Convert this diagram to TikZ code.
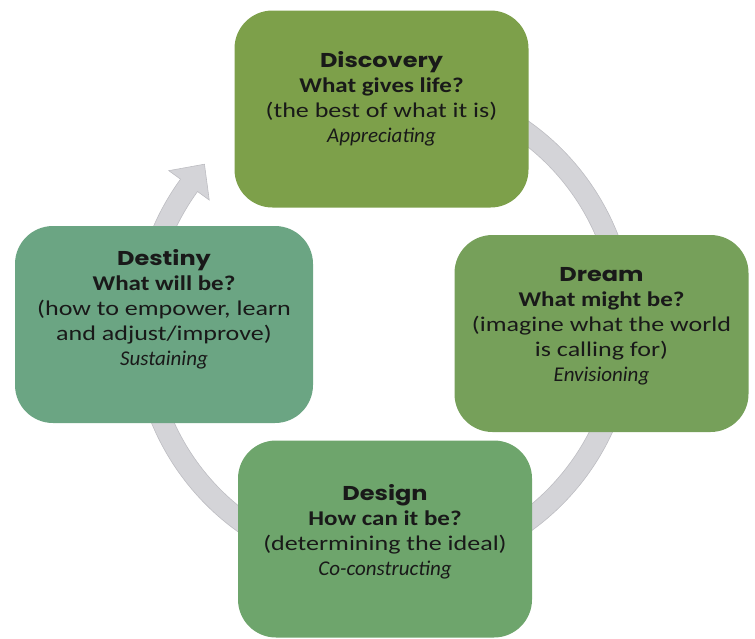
\documentclass[tikz,border=0pt]{standalone}
\usepackage{fontspec}
\setmainfont{Carlito}[UprightFeatures={FakeStretch=1.24}, BoldFeatures={FakeStretch=1.19}]
\newfontfamily\headfont{Poppins}[FakeStretch=1.2]
\usetikzlibrary{calc}

\definecolor{discoverygreen}{HTML}{7DA04A}
\definecolor{dreamgreen}{HTML}{76A05A}
\definecolor{designgreen}{HTML}{6EA56C}
\definecolor{destinygreen}{HTML}{6BA583}
\definecolor{cyclegray}{HTML}{D4D4D8}
\definecolor{cycleedge}{HTML}{BDBDC2}

\newcommand{\stagename}[1]{{\headfont\bfseries\fontsize{20}{25}\selectfont #1}}

\begin{document}
\begin{tikzpicture}[x=1pt, y=1pt,
        stage/.style={rectangle, rounded corners=38pt, minimum width=294pt, minimum height=197pt, inner sep=0pt},
        stagetext/.style={align=center, text=black!90, font=\fontsize{21}{25}\selectfont}]

        \useasboundingbox (0,0) rectangle (755,-638);

        % Cycle arrow behind the boxes
        \coordinate (c) at (384,-327);
        \fill[cyclegray, draw=cycleedge, line width=0.6pt]
            ($(c)+(70:251.5pt)$) arc[start angle=70, end angle=-216, radius=251.5pt]
            -- ($(c)+(144:266pt)$) -- ($(c)+(137.8:242.4pt)$) -- ($(c)+(144:216pt)$)
            -- ($(c)+(144:230.5pt)$) arc[start angle=-216, end angle=70, radius=230.5pt] -- cycle;

        % Boxes
        \node [stage, fill=discoverygreen] (discovery) at (381.5,-109) {};
        \node [stage, fill=dreamgreen] (dream) at (601.5,-333.5) {};
        \node [stage, fill=designgreen] (design) at (385,-539) {};
        \node [stage, fill=destinygreen, minimum width=298pt] (destiny) at (164,-324.5) {};

        % Texts
        \node [stagetext] (discovery-txt) at ([yshift=10pt]discovery.center)
            {\stagename{Discovery}\\ \textbf{What gives life?}\\ (the best of what it is)\\ \textit{Appreciating}};
        \node [stagetext] (dream-txt) at ([yshift=7pt]dream.center)
            {\stagename{Dream}\\ \textbf{What might be?}\\ (imagine what the world\\ is calling for)\\ \textit{Envisioning}};
        \node [stagetext] (design-txt) at ([yshift=7pt]design.center)
            {\stagename{Design}\\ \textbf{How can it be?}\\ (determining the ideal)\\ \textit{Co-constructing}};
        \node [stagetext] (destiny-txt) at ([yshift=15pt]destiny.center)
            {\stagename{Destiny}\\ \textbf{What will be?}\\ (how to empower, learn\\ and adjust/improve)\\ \textit{Sustaining}};

    \end{tikzpicture}
\end{document}
